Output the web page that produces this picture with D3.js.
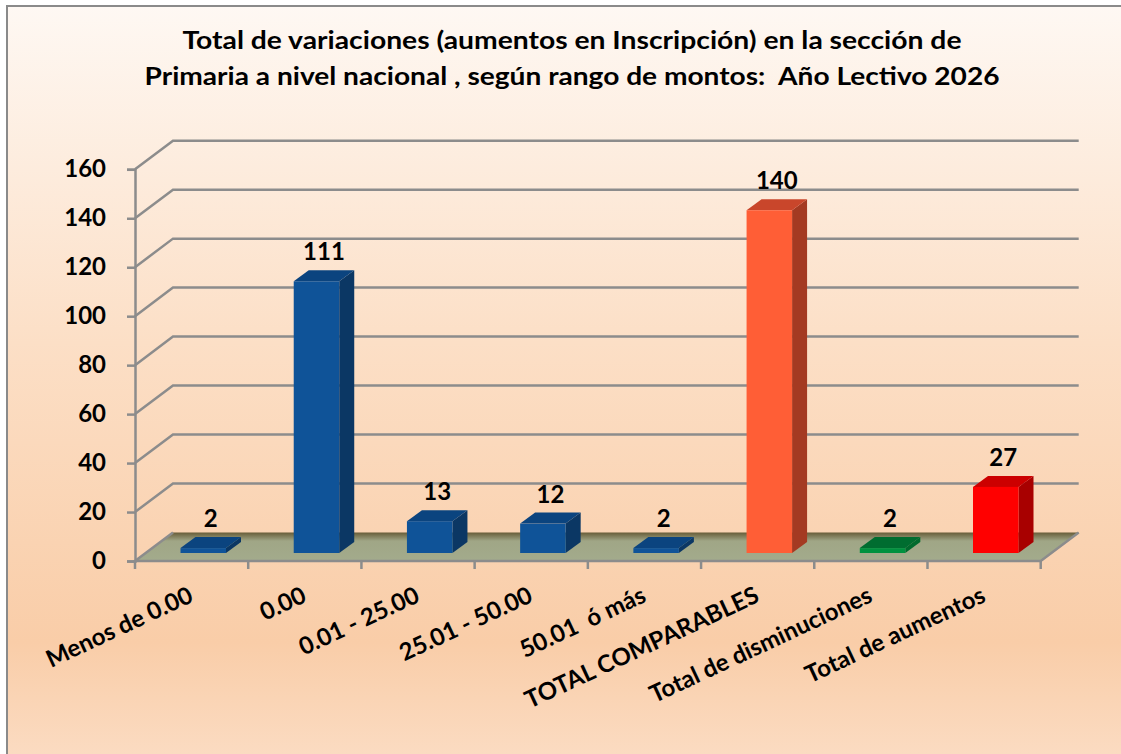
<!DOCTYPE html>
<html>
<head>
<meta charset="utf-8">
<script src="https://cdn.jsdelivr.net/npm/d3@7"></script>
<style>
  html, body { margin: 0; padding: 0; background: #fff; }
  svg text { font-family: Lato, "Open Sans", sans-serif; font-weight: bold; fill: #000; white-space: pre; }
</style>
</head>
<body>
<div id="chart"></div>
<script>
// chart data
const categories = ['Menos de 0.00', '0.00', '0.01 - 25.00', '25.01 - 50.00', '50.01  ó más',
  'TOTAL COMPARABLES', 'Total de disminuciones', 'Total de aumentos'];
const values = [2, 111, 13, 12, 2, 140, 2, 27];
const yTicks = [0, 20, 40, 60, 80, 100, 120, 140, 160];
const titleLines = ['Total de variaciones (aumentos en Inscripción) en la sección de',
  'Primaria a nivel nacional , según rango de montos:  Año Lectivo 2026'];

// face colours per bar: [front, side, top]
const palette = {
  blue: ['#0f5398', '#0b3764', '#0b447f'],
  orange: ['#ff5e36', '#a43a22', '#c9462b'],
  green: ['#00913f', '#006a2e', '#006d30'],
  red: ['#ff0000', '#a80000', '#cc0000']
};
const barColors = ['blue', 'blue', 'blue', 'blue', 'blue', 'orange', 'green', 'red'];

const width = 1121;
const height = 754;

const svg = d3.select('#chart')
  .append('svg')
  .attr('width', width)
  .attr('height', height);

// background gradient
const defs = svg.append('defs');
const bg = defs.append('linearGradient')
  .attr('id', 'bg').attr('x1', 0).attr('y1', 0).attr('x2', 0).attr('y2', 1);
bg.append('stop').attr('offset', '0%').attr('stop-color', '#fef8f3');
bg.append('stop').attr('offset', '45%').attr('stop-color', '#fcdfc6');
bg.append('stop').attr('offset', '85%').attr('stop-color', '#f9cda8');
bg.append('stop').attr('offset', '100%').attr('stop-color', '#fbdbc1');

const floorGrad = defs.append('linearGradient')
  .attr('id', 'floor').attr('x1', 0).attr('y1', 0).attr('x2', 0).attr('y2', 1);
floorGrad.append('stop').attr('offset', '0%').attr('stop-color', '#675c38');
floorGrad.append('stop').attr('offset', '30%').attr('stop-color', '#a0a686');
floorGrad.append('stop').attr('offset', '100%').attr('stop-color', '#a3ab8c');

svg.append('rect')
  .attr('x', 7).attr('y', 6)
  .attr('width', width - 7).attr('height', height - 6)
  .attr('fill', 'url(#bg)');

// border (left and top only are visible)
svg.append('path')
  .attr('d', `M7,${height} V6 H${width}`)
  .attr('fill', 'none')
  .attr('stroke', '#8a8a8a')
  .attr('stroke-width', 2);

// title
svg.selectAll('.title')
  .data(titleLines)
  .enter()
  .append('text')
  .attr('class', 'title')
  .attr('x', 572)
  .attr('y', (d, i) => 49 + i * 36)
  .attr('text-anchor', 'middle')
  .attr('font-size', 25)
  .attr('textLength', (d, i) => i === 0 ? 779 : 855)
  .attr('lengthAdjust', 'spacingAndGlyphs')
  .text(d => d);

// scales
const xScale = d3.scaleBand()
  .domain(categories)
  .range([135, 1040.7])
  .padding(0);

const yScale = d3.scaleLinear()
  .domain([0, 160])
  .range([561, 169.3]);

// depth of the floor / back wall, and of each bar
const depth = { dx: 38, dy: -28.6 };
const barDepth = { dx: 15, dy: -11 };
const barShift = -8;
const x0 = xScale.range()[0];
const x1 = xScale.range()[1];
const gridColor = '#8c8c8c';

// back wall and side wall gridlines
const grid = svg.append('g').attr('class', 'grid');
grid.selectAll('.back')
  .data(yTicks.filter(d => d > 0))
  .enter()
  .append('path')
  .attr('d', d => `M${x0},${yScale(d)} L${x0 + depth.dx},${yScale(d) + depth.dy} H${x1 + depth.dx}`)
  .attr('fill', 'none')
  .attr('stroke', gridColor)
  .attr('stroke-width', 2.5);

// floor
svg.append('path')
  .attr('d', `M${x0},${yScale(0)} L${x0 + depth.dx},${yScale(0) + depth.dy} H${x1 + depth.dx} L${x1},${yScale(0)} Z`)
  .attr('fill', 'url(#floor)');

svg.append('path')
  .attr('d', `M${x0 + depth.dx},${yScale(0) + depth.dy} L${x0},${yScale(0)} H${x1} L${x1 + depth.dx},${yScale(0) + depth.dy}`)
  .attr('fill', 'none')
  .attr('stroke', gridColor)
  .attr('stroke-width', 2.5);

// y axis
const yAxis = d3.axisLeft(yScale)
  .tickValues(yTicks)
  .tickSize(8)
  .tickPadding(21)
  .tickFormat(d3.format('d'));

const yg = svg.append('g')
  .attr('transform', `translate(${x0}, 0)`)
  .call(yAxis);
yg.select('.domain').attr('stroke', gridColor).attr('stroke-width', 2.5);
yg.selectAll('.tick line').attr('stroke', gridColor).attr('stroke-width', 2.5);
yg.selectAll('.tick text')
  .attr('font-size', 24)
  .attr('font-family', 'Lato, "Open Sans", sans-serif')
  .attr('font-weight', 'bold')
  .attr('fill', '#000');

// x tick marks at category boundaries
const bounds = categories.map(c => xScale(c)).concat([x1]);
svg.selectAll('.xtick')
  .data(bounds)
  .enter()
  .append('line')
  .attr('x1', d => d).attr('x2', d => d)
  .attr('y1', yScale(0)).attr('y2', yScale(0) + 8)
  .attr('stroke', gridColor)
  .attr('stroke-width', 2.5);

// bars
const bw = xScale.bandwidth() * 0.402;
const bars = svg.selectAll('.bar')
  .data(values)
  .enter()
  .append('g')
  .attr('class', 'bar');

function barGeom(v, i) {
  const left = xScale(categories[i]) + xScale.bandwidth() * 0.402;
  const top = yScale(v) + barShift;
  const bottom = yScale(0) + barShift;
  return { left, right: left + bw, top, bottom };
}

bars.append('path') // side
  .attr('d', (d, i) => {
    const g = barGeom(d, i);
    return `M${g.right},${g.bottom} L${g.right + barDepth.dx},${g.bottom + barDepth.dy} V${g.top + barDepth.dy} L${g.right},${g.top} Z`;
  })
  .attr('fill', (d, i) => palette[barColors[i]][1]);

bars.append('path') // top
  .attr('d', (d, i) => {
    const g = barGeom(d, i);
    return `M${g.left},${g.top} L${g.left + barDepth.dx},${g.top + barDepth.dy} H${g.right + barDepth.dx} L${g.right},${g.top} Z`;
  })
  .attr('fill', (d, i) => palette[barColors[i]][2]);

bars.append('rect') // front
  .attr('x', (d, i) => barGeom(d, i).left)
  .attr('y', (d, i) => barGeom(d, i).top)
  .attr('width', bw)
  .attr('height', (d, i) => barGeom(d, i).bottom - barGeom(d, i).top)
  .attr('fill', (d, i) => palette[barColors[i]][0]);

// value labels
bars.append('text')
  .attr('x', (d, i) => barGeom(d, i).left + bw / 2 + barDepth.dx / 2)
  .attr('y', (d, i) => barGeom(d, i).top + barDepth.dy - 10)
  .attr('text-anchor', 'middle')
  .attr('font-size', 24)
  .text(d => d);

// category labels, rotated
svg.selectAll('.cat')
  .data(categories)
  .enter()
  .append('text')
  .attr('class', 'cat')
  .attr('text-anchor', 'end')
  .attr('font-size', 24)
  .attr('transform', d => `translate(${xScale(d) + xScale.bandwidth() / 2 + 3}, 601) rotate(-25)`)
  .text(d => d);
</script>
</body>
</html>
